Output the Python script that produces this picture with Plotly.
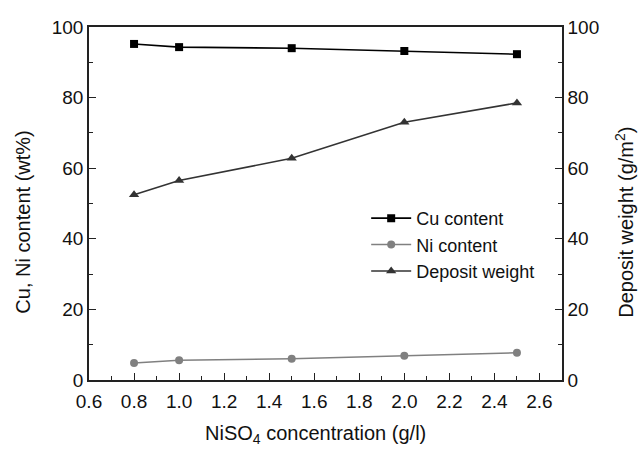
import plotly.graph_objects as go

# NiSO4 concentration (g/l)
conc = [0.8, 1.0, 1.5, 2.0, 2.5]
# Alloy composition (wt%)
cu_content = [95.2, 94.3, 94.0, 93.2, 92.3]
ni_content = [4.8, 5.6, 6.0, 6.9, 7.7]
# Deposit weight (g/m^2)
deposit_weight = [52.5, 56.5, 62.8, 73.0, 78.5]

x_ticks = [0.6, 0.8, 1.0, 1.2, 1.4, 1.6, 1.8, 2.0, 2.2, 2.4, 2.6]
y_ticks = [0, 20, 40, 60, 80, 100]

FONT = "Liberation Sans, Arial, sans-serif"

fig = go.Figure()
fig.add_trace(go.Scatter(
    x=conc, y=cu_content, name="Cu content", mode="lines+markers",
    line=dict(color="#000000", width=1.6),
    marker=dict(symbol="square", size=8, color="#000000"),
))
fig.add_trace(go.Scatter(
    x=conc, y=ni_content, name="Ni content", mode="lines+markers",
    line=dict(color="#808080", width=1.6),
    marker=dict(symbol="circle", size=8, color="#808080"),
))
fig.add_trace(go.Scatter(
    x=conc, y=deposit_weight, name="Deposit weight", mode="lines+markers",
    yaxis="y2",
    line=dict(color="#333333", width=1.6),
    marker=dict(symbol="triangle-up", size=9, color="#333333"),
))

axis_common = dict(
    showline=True, linecolor="#222222", linewidth=1.5,
    ticks="inside", ticklen=7, tickwidth=1.2, tickcolor="#222222",
    showgrid=False, zeroline=False,
    tickfont=dict(family=FONT, size=19, color="#111111"),
)

fig.update_layout(
    width=640, height=449,
    margin=dict(l=89, r=78, t=27, b=69),
    paper_bgcolor="white", plot_bgcolor="white",
    font=dict(family=FONT, color="#111111"),
    xaxis=dict(
        range=[0.6, 2.7], tickvals=x_ticks,
        ticktext=[f"{v:.1f}" for v in x_ticks],
        mirror=True, ticklabelstandoff=3,
        minor=dict(dtick=0.1, ticks="inside", ticklen=4, tickcolor="#222222"),
        **axis_common,
    ),
    yaxis=dict(
        range=[0, 100], tickvals=y_ticks,
        minor=dict(dtick=10, ticks="inside", ticklen=4, tickcolor="#222222"),
        **axis_common,
    ),
    yaxis2=dict(
        range=[0, 100], tickvals=y_ticks, overlaying="y", side="right",
        minor=dict(dtick=10, ticks="inside", ticklen=4, tickcolor="#222222"),
        **axis_common,
    ),
    showlegend=True,
    legend=dict(
        x=0.586, y=0.51, xanchor="left", yanchor="top",
        bgcolor="rgba(255,255,255,0)",
        font=dict(family=FONT, size=18, color="#111111"),
        tracegroupgap=0, itemwidth=40,
    ),
    annotations=[
        dict(text="NiSO<sub>4</sub> concentration (g/l)", xref="paper", yref="paper",
             x=0.478, y=-0.155, xanchor="center", yanchor="middle", showarrow=False,
             font=dict(family=FONT, size=20, color="#111111")),
        dict(text="Cu, Ni content (wt%)", xref="paper", yref="paper",
             x=-0.14, y=0.448, xanchor="center", yanchor="middle", showarrow=False,
             textangle=-90, font=dict(family=FONT, size=20, color="#111111")),
        dict(text="Deposit weight (g/m<sup>2</sup>)", xref="paper", yref="paper",
             x=1.133, y=0.448, xanchor="center", yanchor="middle", showarrow=False,
             textangle=-90, font=dict(family=FONT, size=20, color="#111111")),
    ],
)

fig.write_html("out.html")
